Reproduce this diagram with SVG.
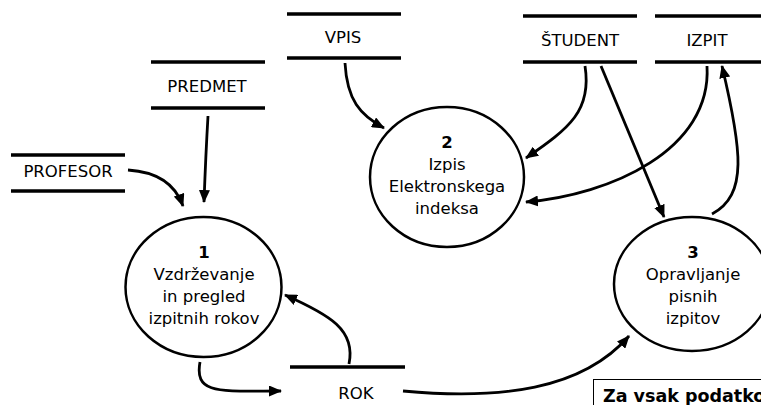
<svg xmlns="http://www.w3.org/2000/svg" width="761" height="405" viewBox="0 0 761 405">
<style>
  text { font-family: "DejaVu Sans", "Liberation Sans", sans-serif; font-size: 16.5px; fill: #000; text-anchor: middle; }
  .num { font-weight: bold; }
  .store line { stroke: #000; stroke-width: 3.5; }
  .proc ellipse { fill: #fff; stroke: #000; stroke-width: 2.5; }
  #connectors path { fill: none; stroke: #000; stroke-width: 2.8; marker-end: url(#arr); }
</style>
<defs>
  <marker id="arr" viewBox="0 0 13 11" refX="12" refY="5.5" markerWidth="13" markerHeight="11" markerUnits="userSpaceOnUse" orient="auto">
    <path d="M0,0 L13,5.5 L0,11 Z" fill="#000"/>
  </marker>
</defs>
<rect width="761" height="405" fill="#fff"/>

<g id="store-profesor" class="store">
  <line x1="11" y1="155" x2="125" y2="155"/>
  <line x1="11" y1="191" x2="125" y2="191"/>
  <text x="68" y="177">PROFESOR</text>
</g>
<g id="store-predmet" class="store">
  <line x1="151" y1="62" x2="265" y2="62"/>
  <line x1="151" y1="108" x2="265" y2="108"/>
  <text x="207" y="92">PREDMET</text>
</g>
<g id="store-vpis" class="store">
  <line x1="287" y1="14" x2="401" y2="14"/>
  <line x1="287" y1="58" x2="401" y2="58"/>
  <text x="343" y="43">VPIS</text>
</g>
<g id="store-student" class="store">
  <line x1="523" y1="16" x2="637" y2="16"/>
  <line x1="523" y1="62" x2="637" y2="62"/>
  <text x="580" y="46">ŠTUDENT</text>
</g>
<g id="store-izpit" class="store">
  <line x1="655" y1="16" x2="770" y2="16"/>
  <line x1="655" y1="62" x2="770" y2="62"/>
  <text x="707" y="46">IZPIT</text>
</g>
<g id="store-rok" class="store">
  <line x1="290" y1="367" x2="405" y2="367"/>
  <text x="356" y="399">ROK</text>
</g>

<g id="proc-1" class="proc">
  <ellipse cx="203.5" cy="287" rx="78" ry="70"/>
  <text x="204" y="258" class="num">1</text>
  <text x="204" y="280">Vzdrževanje</text>
  <text x="204" y="302">in pregled</text>
  <text x="204" y="324">izpitnih rokov</text>
</g>
<g id="proc-2" class="proc">
  <ellipse cx="447" cy="177" rx="77" ry="70"/>
  <text x="447" y="148" class="num">2</text>
  <text x="447" y="170">Izpis</text>
  <text x="447" y="192">Elektronskega</text>
  <text x="447" y="214">indeksa</text>
</g>
<g id="proc-3" class="proc">
  <ellipse cx="692" cy="284" rx="78" ry="67"/>
  <text x="693" y="258" class="num">3</text>
  <text x="693" y="280">Opravljanje</text>
  <text x="693" y="302">pisnih</text>
  <text x="693" y="324">izpitov</text>
</g>

<g id="note">
  <rect x="593.5" y="379.5" width="180" height="40" fill="#fff" stroke="#000" stroke-width="1"/>
  <text x="603" y="402" class="num" style="text-anchor:start;font-size:17.5px">Za vsak podatko</text>
</g>

<g id="connectors">
  <path d="M128,170 C160,172 176,186 183,206"/>
  <path d="M208,116 C206,150 205,175 204,202"/>
  <path d="M345,63 C347,100 360,115 384,128"/>
  <path d="M585,66 C592,110 570,128 526,158"/>
  <path d="M707,66 C712,150 610,195 526,202"/>
  <path d="M601,66 L664,217"/>
  <path d="M712,214 C748,195 742,150 722,66"/>
  <path d="M200,362 C194,395 220,391 281,391"/>
  <path d="M349,364 C356,330 330,315 285,295"/>
  <path d="M403,391 C500,400 582,390 629,336"/>
</g>
</svg>
